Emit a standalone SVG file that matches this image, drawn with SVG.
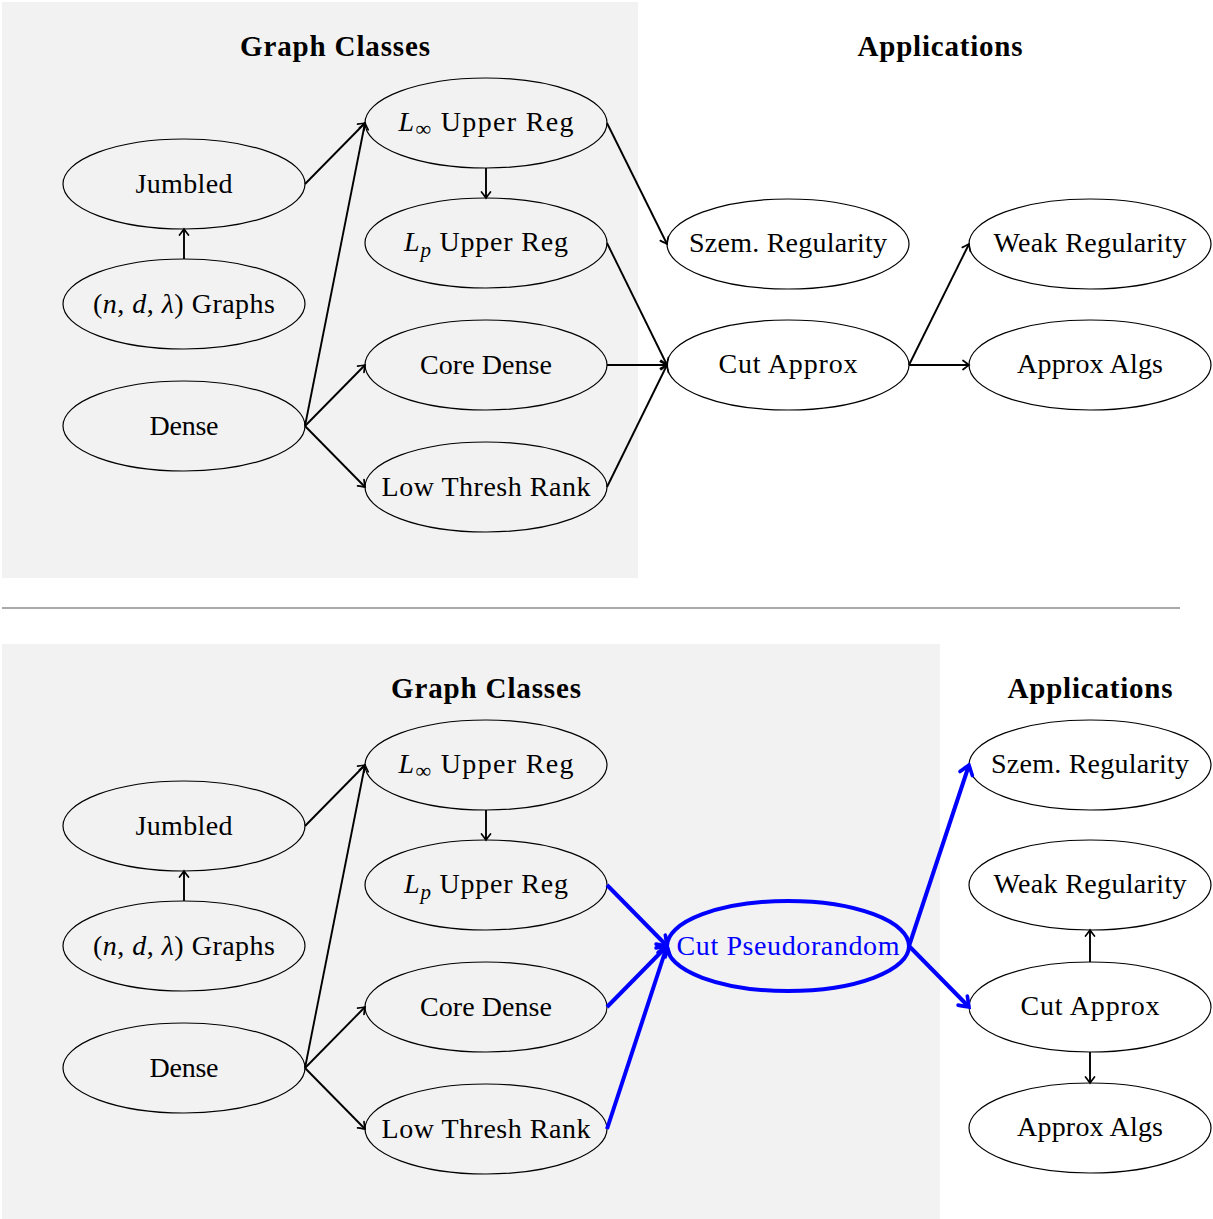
<svg xmlns="http://www.w3.org/2000/svg" width="1213" height="1219" viewBox="0 0 1213 1219">
<style>
.bg{fill:#f2f2f2}
.n ellipse{fill:none;stroke:#000;stroke-width:1.2}
.n text,.t{font-family:"Liberation Serif","Times New Roman",serif;font-size:28px;fill:#000;text-anchor:middle}
.t{font-weight:bold;font-size:29px}
.i{font-style:italic}
.e{fill:none;stroke:#000;stroke-width:1.9}
.b{fill:none;stroke:#0000ff;stroke-width:4}
#cp ellipse{stroke:#0000ff;stroke-width:4}
#cp text{fill:#0000ff}
</style>
<defs>
<marker id="a" viewBox="-9 -6 11 12" refX="0" refY="0" markerWidth="11" markerHeight="12" markerUnits="userSpaceOnUse" orient="auto" overflow="visible">
<path d="M-6,-4.5 Q-1.5,-1 0,0 Q-1.5,1 -6,4.5" fill="none" stroke="#000" stroke-width="1.7" stroke-linecap="round"/>
</marker>
<marker id="ab" viewBox="-12 -8 14 16" refX="0" refY="0" markerWidth="14" markerHeight="16" markerUnits="userSpaceOnUse" orient="auto" overflow="visible">
<path d="M-9,-6.5 Q-2,-1.5 0,0 Q-2,1.5 -9,6.5" fill="none" stroke="#0000ff" stroke-width="3.6" stroke-linecap="round"/>
</marker>
</defs>
<rect class="bg" x="2" y="2" width="636" height="576"/>
<rect class="bg" x="2" y="644" width="938" height="575"/>
<line x1="2" y1="608" x2="1180" y2="608" stroke="#555" stroke-width="1.2"/>
<text class="t" x="335" y="56" textLength="190">Graph Classes</text>
<text class="t" x="940" y="56" textLength="165">Applications</text>
<text class="t" x="486" y="698" textLength="190">Graph Classes</text>
<text class="t" x="1090" y="698" textLength="165">Applications</text>

<g id="top-nodes">
<g class="n" id="t-jumbled"><ellipse cx="184" cy="184" rx="121" ry="45"/><text x="184" y="193" textLength="97">Jumbled</text></g>
<g class="n" id="t-ndl"><ellipse cx="184" cy="304" rx="121" ry="45"/><text x="184" y="313" textLength="182">(<tspan class="i">n</tspan>, <tspan class="i">d</tspan>, <tspan class="i">λ</tspan>) Graphs</text></g>
<g class="n" id="t-dense"><ellipse cx="184" cy="426" rx="121" ry="45"/><text x="184" y="435" textLength="69">Dense</text></g>
<g class="n" id="t-linf"><ellipse cx="486" cy="123" rx="121" ry="45"/><text x="486" y="131" textLength="175"><tspan class="i">L</tspan><tspan font-size="22" dy="5">∞</tspan><tspan dy="-5"> Upper Reg</tspan></text></g>
<g class="n" id="t-lp"><ellipse cx="486" cy="243" rx="121" ry="45"/><text x="486" y="251" textLength="164"><tspan class="i">L</tspan><tspan class="i" font-size="21" dy="6">p</tspan><tspan dy="-6"> Upper Reg</tspan></text></g>
<g class="n" id="t-core"><ellipse cx="486" cy="365" rx="121" ry="45"/><text x="486" y="374" textLength="132">Core Dense</text></g>
<g class="n" id="t-low"><ellipse cx="486" cy="487" rx="121" ry="45"/><text x="486" y="496" textLength="209">Low Thresh Rank</text></g>
<g class="n" id="t-szem"><ellipse cx="788" cy="244" rx="121" ry="45"/><text x="788" y="252" textLength="198">Szem. Regularity</text></g>
<g class="n" id="t-cut"><ellipse cx="788" cy="365" rx="121" ry="45"/><text x="788" y="373" textLength="139">Cut Approx</text></g>
<g class="n" id="t-weak"><ellipse cx="1090" cy="244" rx="121" ry="45"/><text x="1090" y="252" textLength="193">Weak Regularity</text></g>
<g class="n" id="t-algs"><ellipse cx="1090" cy="365" rx="121" ry="45"/><text x="1090" y="373" textLength="146">Approx Algs</text></g>
</g>

<g id="bottom-nodes">
<g class="n" id="b-jumbled"><ellipse cx="184" cy="826" rx="121" ry="45"/><text x="184" y="835" textLength="97">Jumbled</text></g>
<g class="n" id="b-ndl"><ellipse cx="184" cy="946" rx="121" ry="45"/><text x="184" y="955" textLength="182">(<tspan class="i">n</tspan>, <tspan class="i">d</tspan>, <tspan class="i">λ</tspan>) Graphs</text></g>
<g class="n" id="b-dense"><ellipse cx="184" cy="1068" rx="121" ry="45"/><text x="184" y="1077" textLength="69">Dense</text></g>
<g class="n" id="b-linf"><ellipse cx="486" cy="765" rx="121" ry="45"/><text x="486" y="773" textLength="175"><tspan class="i">L</tspan><tspan font-size="22" dy="5">∞</tspan><tspan dy="-5"> Upper Reg</tspan></text></g>
<g class="n" id="b-lp"><ellipse cx="486" cy="885" rx="121" ry="45"/><text x="486" y="893" textLength="164"><tspan class="i">L</tspan><tspan class="i" font-size="21" dy="6">p</tspan><tspan dy="-6"> Upper Reg</tspan></text></g>
<g class="n" id="b-core"><ellipse cx="486" cy="1007" rx="121" ry="45"/><text x="486" y="1016" textLength="132">Core Dense</text></g>
<g class="n" id="b-low"><ellipse cx="486" cy="1129" rx="121" ry="45"/><text x="486" y="1138" textLength="209">Low Thresh Rank</text></g>
<g class="n" id="cp"><ellipse cx="788" cy="946" rx="121" ry="45"/><text x="788" y="955" textLength="223">Cut Pseudorandom</text></g>
<g class="n" id="b-szem"><ellipse cx="1090" cy="765" rx="121" ry="45"/><text x="1090" y="773" textLength="198">Szem. Regularity</text></g>
<g class="n" id="b-weak"><ellipse cx="1090" cy="885" rx="121" ry="45"/><text x="1090" y="893" textLength="193">Weak Regularity</text></g>
<g class="n" id="b-cut"><ellipse cx="1090" cy="1007" rx="121" ry="45"/><text x="1090" y="1015" textLength="139">Cut Approx</text></g>
<g class="n" id="b-algs"><ellipse cx="1090" cy="1128" rx="121" ry="45"/><text x="1090" y="1136" textLength="146">Approx Algs</text></g>
</g>

<g id="connectors">
<line class="e" x1="305" y1="184" x2="365" y2="123" marker-end="url(#a)"/>
<line class="e" x1="184" y1="259" x2="184" y2="229" marker-end="url(#a)"/>
<line class="e" x1="305" y1="426" x2="365" y2="123" marker-end="url(#a)"/>
<line class="e" x1="305" y1="426" x2="365" y2="365" marker-end="url(#a)"/>
<line class="e" x1="305" y1="426" x2="365" y2="487" marker-end="url(#a)"/>
<line class="e" x1="486" y1="168" x2="486" y2="198" marker-end="url(#a)"/>
<line class="e" x1="607" y1="123" x2="667" y2="244" marker-end="url(#a)"/>
<line class="e" x1="607" y1="243" x2="667" y2="365" marker-end="url(#a)"/>
<line class="e" x1="607" y1="365" x2="667" y2="365" marker-end="url(#a)"/>
<line class="e" x1="607" y1="487" x2="667" y2="365" marker-end="url(#a)"/>
<line class="e" x1="909" y1="365" x2="969" y2="244" marker-end="url(#a)"/>
<line class="e" x1="909" y1="365" x2="969" y2="365" marker-end="url(#a)"/>

<line class="e" x1="305" y1="826" x2="365" y2="765" marker-end="url(#a)"/>
<line class="e" x1="184" y1="901" x2="184" y2="871" marker-end="url(#a)"/>
<line class="e" x1="305" y1="1068" x2="365" y2="765" marker-end="url(#a)"/>
<line class="e" x1="305" y1="1068" x2="365" y2="1007" marker-end="url(#a)"/>
<line class="e" x1="305" y1="1068" x2="365" y2="1129" marker-end="url(#a)"/>
<line class="e" x1="486" y1="810" x2="486" y2="840" marker-end="url(#a)"/>
<line class="b" x1="607" y1="885" x2="667" y2="946" marker-end="url(#ab)"/>
<line class="b" x1="607" y1="1007" x2="667" y2="946" marker-end="url(#ab)"/>
<line class="b" x1="607" y1="1129" x2="667" y2="946" marker-end="url(#ab)"/>
<line class="b" x1="909" y1="946" x2="969" y2="765" marker-end="url(#ab)"/>
<line class="b" x1="909" y1="946" x2="969" y2="1007" marker-end="url(#ab)"/>
<line class="e" x1="1090" y1="962" x2="1090" y2="930" marker-end="url(#a)"/>
<line class="e" x1="1090" y1="1052" x2="1090" y2="1083" marker-end="url(#a)"/>
</g>
</svg>
